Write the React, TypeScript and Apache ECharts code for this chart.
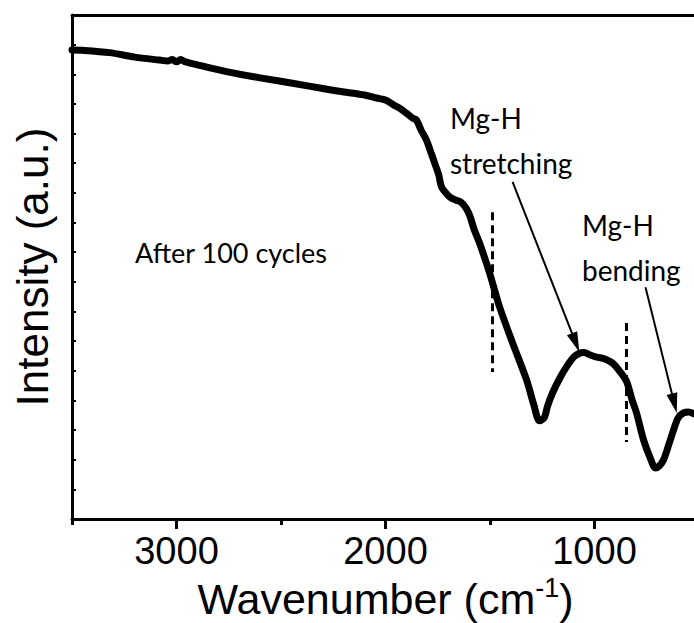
import React, { useEffect, useRef } from "react";
import * as echarts from "echarts";

// FTIR spectrum after 100 cycles (wavenumber in cm^-1, intensity in arbitrary units)
const wavenumber = [
  3500, 3450, 3320, 3200, 3081, 3040, 3020, 3000, 2980, 2960, 2900, 2761, 2600, 2445, 2300, 2206, 2100,
  2043, 2000, 1960, 1933, 1900, 1870, 1852, 1830, 1804, 1785, 1765, 1745, 1732, 1710, 1690, 1665, 1640,
  1615, 1598, 1575, 1550, 1502, 1454, 1392, 1325, 1290, 1263, 1240, 1225, 1201, 1163, 1134, 1100, 1070,
  1050, 1020, 990, 950, 914, 880, 847, 820, 799, 765, 735, 708, 690, 670, 645, 622, 600, 574, 550, 525,
];
const intensity = [
  15.82, 15.81, 15.73, 15.58, 15.48, 15.45, 15.5, 15.42, 15.5, 15.43, 15.32, 15.09, 14.88, 14.7, 14.52,
  14.41, 14.3, 14.2, 14.13, 13.96, 13.86, 13.69, 13.52, 13.46, 13.12, 12.78, 12.41, 12.01, 11.6, 11.2,
  10.99, 10.85, 10.76, 10.69, 10.49, 10.25, 9.75, 9.31, 8.3, 7.15, 5.94, 4.69, 3.84, 3.31, 3.42, 3.8,
  4.25, 4.79, 5.13, 5.46, 5.6, 5.62, 5.53, 5.46, 5.4, 5.26, 4.99, 4.65, 4.01, 3.58, 2.66, 2.09, 1.72,
  1.79, 1.99, 2.5, 3.0, 3.41, 3.58, 3.61, 3.55,
];

const xLabelTicks = [1000, 2000, 3000];
const xMinorTicks = [1500, 2500, 3500];

// dashed marker lines: wavenumber, top and bottom intensity
const markerWavenumber = [1490, 850];
const markerTop = [10.35, 6.61];
const markerBottom = [4.96, 2.6];

// annotation arrows: start and tip
const arrowStartX = [1392, 756];
const arrowStartY = [11.37, 7.82];
const arrowEndX = [1090, 618];
const arrowEndY = [5.95, 3.9];

const sampleLabel = "After 100 cycles";
const bandTitles = ["Mg-H", "Mg-H"];
const bandModes = ["stretching", "bending"];

export default function App() {
  const ref = useRef<HTMLDivElement>(null);
  useEffect(() => {
    if (!ref.current) return;
    const chart = echarts.init(ref.current, null, { renderer: "svg" });
    const axisFont = "'Liberation Sans', Arial, sans-serif";
    const noteFont = "Lato, 'Open Sans', sans-serif";
    const noteSize = 28;

    const dashed = markerWavenumber.map((w, i) => [
      { coord: [w, markerTop[i]], symbol: "none", lineStyle: { type: [8, 5], width: 3, color: "#000" } },
      { coord: [w, markerBottom[i]], symbol: "none" },
    ]);
    const arrows = arrowStartX.map((x, i) => [
      { coord: [x, arrowStartY[i]], symbol: "none", lineStyle: { type: "solid", width: 2, color: "#000" } },
      { coord: [arrowEndX[i], arrowEndY[i]], symbol: "triangle", symbolSize: [11, 20] },
    ]);

    chart.setOption({
      animation: false,
      backgroundColor: "#fff",
      grid: { left: 72, top: 15, right: -5, bottom: 104, containLabel: false, outerBoundsMode: "none" },
      xAxis: [
        {
          type: "value",
          min: 500,
          max: 3500,
          inverse: true,
          position: "bottom",
          axisLine: { show: true, lineStyle: { color: "#000", width: 3 } },
          axisTick: { show: true, customValues: xLabelTicks, length: 10, lineStyle: { color: "#000", width: 3 } },
          axisLabel: {
            show: true,
            customValues: xLabelTicks,
            formatter: (v: number) => String(v),
            margin: 13,
            color: "#000",
            fontSize: 38,
            fontFamily: axisFont,
          },
          splitLine: { show: false },
          name: "{a|Wavenumber (cm}{s|-1}{a|)}",
          nameLocation: "middle",
          nameGap: 52,
          nameTextStyle: {
            rich: {
              a: { fontSize: 43, fontFamily: axisFont, color: "#000", lineHeight: 46, verticalAlign: "bottom" },
              s: { fontSize: 27, fontFamily: axisFont, color: "#000", lineHeight: 46, verticalAlign: "top" },
            },
          },
        },
        {
          type: "value",
          min: 500,
          max: 3500,
          inverse: true,
          position: "bottom",
          axisLine: { show: false },
          axisTick: { show: true, customValues: xMinorTicks, length: 6, lineStyle: { color: "#000", width: 3 } },
          axisLabel: { show: false },
          splitLine: { show: false },
        },
        {
          type: "value",
          min: 500,
          max: 3500,
          inverse: true,
          position: "top",
          axisLine: { show: true, lineStyle: { color: "#000", width: 3 } },
          axisTick: { show: false },
          axisLabel: { show: false },
          splitLine: { show: false },
        },
      ],
      yAxis: {
        type: "value",
        min: 0,
        max: 17,
        interval: 1,
        axisLine: { show: true, lineStyle: { color: "#000", width: 3 } },
        axisTick: { show: true, inside: true, length: 4, lineStyle: { color: "#000", width: 2 } },
        axisLabel: { show: false },
        splitLine: { show: false },
        name: "Intensity (a.u.)",
        nameLocation: "middle",
        nameGap: 18,
        nameRotate: 90,
        nameTextStyle: { fontSize: 44, fontFamily: axisFont, color: "#000" },
      },
      series: [
        {
          type: "line",
          xAxisIndex: 0,
          data: wavenumber.map((w, i) => [w, intensity[i]]),
          showSymbol: false,
          smooth: 0.3,
          lineStyle: { color: "#000", width: 7, cap: "round", join: "round" },
          markLine: {
            silent: true,
            animation: false,
            label: { show: false },
            symbol: ["none", "none"],
            data: [...dashed, ...arrows],
          },
        },
      ],
      graphic: [
        {
          type: "text",
          left: 135,
          top: 239,
          style: { text: sampleLabel, fontSize: 27, fontFamily: noteFont, fill: "#000" },
        },
        {
          type: "text",
          left: 450,
          top: 95,
          style: {
            text: bandTitles[0] + "\n" + bandModes[0],
            fontSize: noteSize,
            lineHeight: 45,
            fontFamily: noteFont,
            fill: "#000",
          },
        },
        {
          type: "text",
          left: 582,
          top: 202,
          style: {
            text: bandTitles[1] + "\n" + bandModes[1],
            fontSize: noteSize,
            lineHeight: 45,
            fontFamily: noteFont,
            fill: "#000",
          },
        },
      ],
    });
    return () => chart.dispose();
  }, []);
  return <div ref={ref} style={{ position: "fixed", left: 0, top: 0, width: 694, height: 623 }} />;
}
